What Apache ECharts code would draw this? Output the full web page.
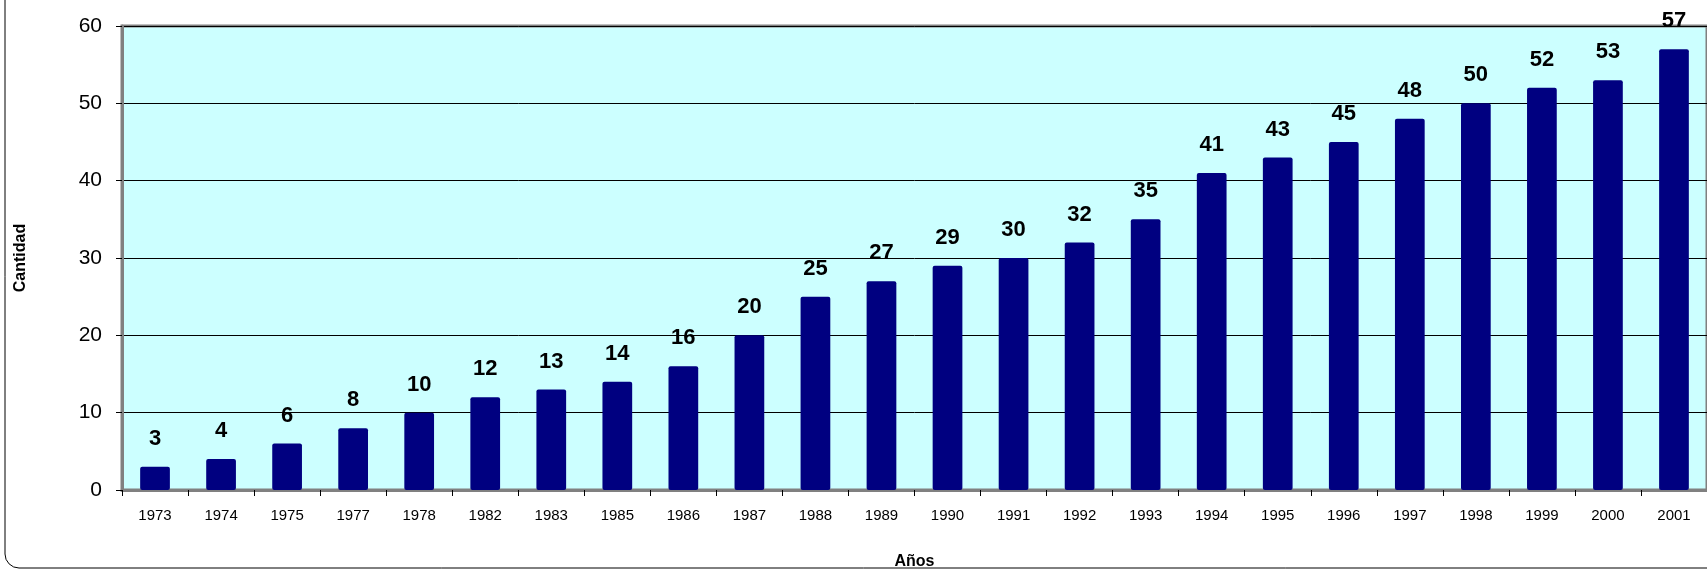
<!DOCTYPE html>
<html><head><meta charset="utf-8">
<script src="https://cdn.jsdelivr.net/npm/echarts@6/dist/echarts.min.js"></script>
<style>html,body{margin:0;padding:0;background:#fff}#c{width:1707px;height:569px}</style>
</head><body><div id="c"></div>
<script>
const categories = ['1973','1974','1975','1977','1978','1982','1983','1985','1986','1987','1988','1989','1990','1991','1992','1993','1994','1995','1996','1997','1998','1999','2000','2001'];
const values = [3,4,6,8,10,12,13,14,16,20,25,27,29,30,32,35,41,43,45,48,50,52,53,57];
const yTicks = [0,10,20,30,40,50,60];

const chart = echarts.init(document.getElementById('c'));
const F = '"Liberation Sans", Arial, sans-serif';
chart.setOption({
  animation: false,
  textStyle: {fontFamily: F},
  graphic: [{
    type: 'rect', shape: {x: 5, y: -20, width: 1740, height: 588, r: 14},
    style: {fill: 'none', stroke: '#000', lineWidth: 1}, z: -10
  }],
  grid: {left: 122, right: 0, top: 26, bottom: 79, outerBoundsMode: 'none', containLabel: false,
         show: true, backgroundColor: '#CCFFFF', borderColor: '#808080', borderWidth: 3},
  xAxis: {
    type: 'category', data: categories, name: 'Años', nameLocation: 'middle', nameGap: 64,
    nameTextStyle: {fontFamily: F, fontWeight: 'bold', fontSize: 16, color: '#000'},
    axisLine: {lineStyle: {color: '#808080', width: 3}},
    axisTick: {show: true, length: 6, lineStyle: {color: '#000', width: 1}},
    axisLabel: {fontFamily: F, fontSize: 15, color: '#000', margin: 18}
  },
  yAxis: {
    type: 'value', min: yTicks[0], max: yTicks[yTicks.length-1], interval: 10,
    name: 'Cantidad', nameLocation: 'middle', nameGap: 93, nameRotate: 90,
    nameTextStyle: {fontFamily: F, fontWeight: 'bold', fontSize: 16, color: '#000'},
    axisLine: {show: true, lineStyle: {color: '#808080', width: 3}},
    axisTick: {show: true, length: 6, lineStyle: {color: '#000', width: 1}},
    axisLabel: {fontFamily: F, fontSize: 21, color: '#000', margin: 20},
    splitLine: {lineStyle: {color: '#000', width: 1}}
  },
  series: [{
    type: 'bar', data: values, barWidth: '45%',
    itemStyle: {color: '#000080', borderRadius: 2},
    label: {show: true, position: 'top', distance: 17, fontFamily: F, fontWeight: 'bold', fontSize: 22, color: '#000'}
  }]
});
</script></body></html>
